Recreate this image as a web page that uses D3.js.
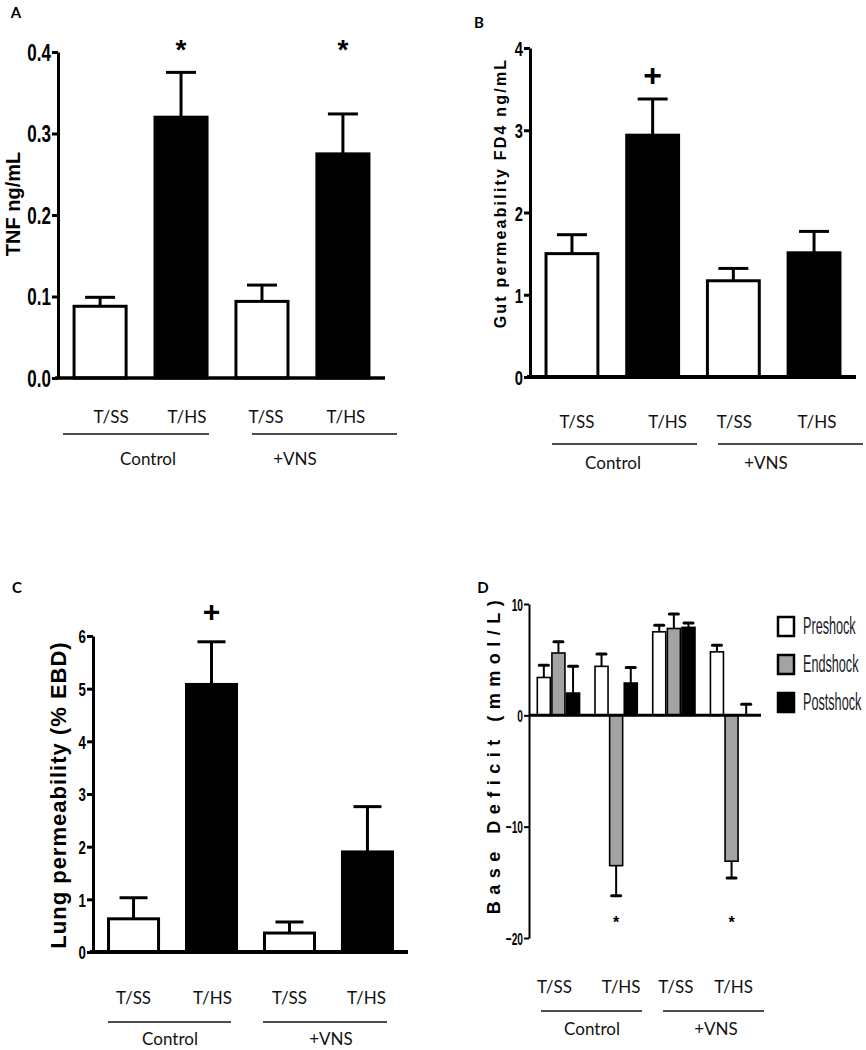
<!DOCTYPE html>
<html><head><meta charset="utf-8">
<script src="https://cdn.jsdelivr.net/npm/d3@7"></script>
<style>body{margin:0;background:#fff}svg{display:block}</style>
</head><body>
<svg id="c" width="866" height="1050"></svg>
<script>
// ---------- data ----------
const categories = ["T/SS", "T/HS", "T/SS", "T/HS"];
const groups = ["Control", "+VNS"];
const barFills = ["#fff", "#000", "#fff", "#000"];

// A: TNF
const tnfMean = [0.088, 0.320, 0.094, 0.275];
const tnfErr = [0.011, 0.055, 0.020, 0.049];
const tnfTicks = [0, 0.1, 0.2, 0.3, 0.4];
const tnfSig = ["", "*", "", "*"];

// B: Gut permeability
const gutMean = [1.50, 2.94, 1.17, 1.51];
const gutErr = [0.23, 0.44, 0.15, 0.26];
const gutTicks = [0, 1, 2, 3, 4];
const gutSig = ["", "+", "", ""];

// C: Lung permeability
const lungMean = [0.63, 5.08, 0.36, 1.90];
const lungErr = [0.40, 0.81, 0.21, 0.86];
const lungTicks = [0, 1, 2, 3, 4, 5, 6];
const lungSig = ["", "+", "", ""];

// D: Base deficit
const bdSeries = ["Preshock", "Endshock", "Postshock"];
const preshockMean = [3.4, 4.4, 7.5, 5.7];
const preshockErr = [1.1, 1.1, 0.6, 0.6];
const endshockMean = [5.6, -13.5, 7.8, -13.1];
const endshockErr = [1.0, 2.7, 1.3, 1.5];
const postshockMean = [2.0, 2.9, 7.9, 0.0];
const postshockErr = [2.4, 1.4, 0.4, 1.0];
const bdTicks = [-20, -10, 0, 10];
const bdSig = ["", "*", "", "*"];
const bdFills = ["#fff", "#a3a3a3", "#000"];

// ---------- drawing ----------
const svg = d3.select("#c");
const ARIAL = "'Liberation Sans',Arial,sans-serif";
const CAL = "Lato,'Open Sans',sans-serif";

function commonDecor(g, L) {
  g.append("text").attr("x", L.letter[1]).attr("y", L.letter[2])
    .attr("font-family", CAL).attr("font-weight", "bold").attr("font-size", 15)
    .attr("text-anchor", "middle").attr("dominant-baseline", "central").text(L.letter[0]);
  g.append("text").attr("transform", `translate(${L.ylab.x},${L.ylab.y}) rotate(-90)`)
    .attr("font-family", ARIAL).attr("font-weight", "bold").attr("font-size", L.ylab.size)
    .attr("letter-spacing", L.ylab.ls).attr("text-anchor", "middle")
    .attr("dominant-baseline", "central").text(L.ylab.text);
}

function catLabels(g, L, centers) {
  categories.forEach((c, i) => {
    g.append("text").attr("x", centers[i] + L.labelDx[i]).attr("y", L.catY)
      .attr("font-family", CAL).attr("font-size", L.catSize).attr("fill", "#111")
      .attr("text-anchor", "middle").text(c);
  });
  L.under.forEach((u, i) => {
    g.append("line").attr("x1", u[0]).attr("x2", u[1]).attr("y1", L.lineY).attr("y2", L.lineY)
      .attr("stroke", "#111").attr("stroke-width", 1.6);
    g.append("text").attr("x", L.groupX[i]).attr("y", L.groupY)
      .attr("font-family", CAL).attr("font-size", L.catSize).attr("fill", "#111")
      .attr("text-anchor", "middle").text(groups[i]);
  });
}

function yAxis(g, L, y, ticks, fmt) {
  const ax = d3.axisLeft(y).tickValues(ticks).tickFormat(fmt)
    .tickSize(L.tickLen).tickSizeOuter(0).tickPadding(1);
  const a = g.append("g").attr("transform", `translate(${L.ax},0)`).call(ax);
  a.select(".domain").attr("stroke", "#000").attr("stroke-width", L.axW);
  a.selectAll(".tick line").attr("stroke", "#000").attr("stroke-width", L.axW);
  a.selectAll(".tick text").attr("font-family", ARIAL).attr("font-weight", "bold")
    .attr("font-size", L.tickSize).attr("fill", "#000")
    .attr("x", 0).attr("dy", "0.36em")
    .attr("transform", `translate(${-(L.tickLen + 1)},0) scale(${L.tickSx},1)`);
}

function simplePanel(L, means, errs, ticks, fmt, sig) {
  const g = svg.append("g");
  const y = d3.scaleLinear().domain(L.domain).range([L.y0, L.y1]);
  const x = d3.scaleBand().domain(d3.range(categories.length)).range([L.ax, L.axEnd])
    .paddingInner(0.32).paddingOuter(0.18);
  const bw = x.bandwidth();
  means.forEach((m, i) => {
    const cx = x(i) + bw / 2;
    g.append("line").attr("x1", cx).attr("x2", cx).attr("y1", y(m)).attr("y2", y(m + errs[i]))
      .attr("stroke", "#000").attr("stroke-width", 3);
    g.append("line").attr("x1", cx - L.cap / 2).attr("x2", cx + L.cap / 2)
      .attr("y1", y(m + errs[i])).attr("y2", y(m + errs[i]))
      .attr("stroke", "#000").attr("stroke-width", 3);
  });
  means.forEach((m, i) => {
    g.append("rect").attr("x", x(i) + 1.5).attr("width", bw - 3)
      .attr("y", y(m)).attr("height", y(0) - y(m))
      .attr("fill", barFills[i]).attr("stroke", "#000").attr("stroke-width", 3);
    if (sig[i]) {
      g.append("text").attr("x", x(i) + bw / 2).attr("y", L.sigY)
        .attr("font-family", ARIAL).attr("font-weight", "bold").attr("font-size", L.sigSize)
        .attr("text-anchor", "middle").text(sig[i]);
    }
  });
  yAxis(g, L, y, ticks, fmt);
  g.append("line").attr("x1", L.ax - 3).attr("x2", L.axEnd).attr("y1", y(0)).attr("y2", y(0))
    .attr("stroke", "#000").attr("stroke-width", L.xW);
  commonDecor(g, L);
  catLabels(g, L, categories.map((c, i) => x(i) + bw / 2));
}

simplePanel({
  letter: ["A", 16, 12], ax: 58, axEnd: 385, y0: 378, y1: 52, domain: [0, 0.4],
  tickLen: 6, axW: 3, xW: 3.5, tickSize: 23, tickSx: 0.74, cap: 30,
  ylab: { text: "TNF ng/mL", x: 13, y: 204, size: 20, ls: 0 },
  sigY: 59, sigSize: 28,
  catY: 423, catSize: 17, labelDx: [11, 6, 4, 3],
  lineY: 434, under: [[63, 209], [252, 397]], groupX: [148, 295], groupY: 465
}, tnfMean, tnfErr, tnfTicks, d3.format(".1f"), tnfSig);

simplePanel({
  letter: ["B", 479, 22], ax: 530, axEnd: 856, y0: 377, y1: 48, domain: [0, 4],
  tickLen: 6, axW: 3, xW: 4, tickSize: 21, tickSx: 0.7, cap: 30,
  ylab: { text: "Gut permeability FD4 ng/mL", x: 500, y: 193, size: 16, ls: 2.2 },
  sigY: 86, sigSize: 32,
  catY: 428, catSize: 17, labelDx: [5, 15, 1, 3],
  lineY: 444, under: [[552, 697], [718, 863]], groupX: [613, 766], groupY: 469
}, gutMean, gutErr, gutTicks, d3.format("d"), gutSig);

simplePanel({
  letter: ["C", 17, 587], ax: 93, axEnd: 408, y0: 952, y1: 636, domain: [0, 6],
  tickLen: 6, axW: 3, xW: 4, tickSize: 19, tickSx: 0.7, cap: 28,
  ylab: { text: "Lung permeability (% EBD)", x: 58, y: 795, size: 22, ls: 1 },
  sigY: 622, sigSize: 30,
  catY: 1004, catSize: 17, labelDx: [0, 1, 0, -1],
  lineY: 1022, under: [[108, 231], [263, 387]], groupX: [170, 331], groupY: 1045
}, lungMean, lungErr, lungTicks, d3.format("d"), lungSig);

// ---------- panel D ----------
(function () {
  const L = {
    letter: ["D", 483, 587], ax: 529, axEnd: 761, y0: 938, y1: 604, domain: [-20, 10],
    tickLen: 5, axW: 2, tickSize: 17, tickSx: 0.6,
    ylab: { text: "Base Deficit (mmol/L)", x: 494, y: 754, size: 18, ls: 6.5 },
    catY: 993, catSize: 17, labelDx: [-4, 5, 2, 2],
    lineY: 1011, under: [[541, 642], [663, 764]], groupX: [592, 716], groupY: 1035
  };
  const g = svg.append("g");
  const y = d3.scaleLinear().domain(L.domain).range([L.y0, L.y1]);
  const x = d3.scaleBand().domain(d3.range(categories.length)).range([L.ax, L.axEnd])
    .paddingInner(0.24).paddingOuter(0.13);
  const xs = d3.scaleBand().domain(d3.range(bdSeries.length)).range([0, x.bandwidth()]);
  const bw = xs.bandwidth();
  const means = [preshockMean, endshockMean, postshockMean];
  const errs = [preshockErr, endshockErr, postshockErr];
  means.forEach((ser, s) => ser.forEach((m, i) => {
    const cx = x(i) + xs(s) + bw / 2;
    const e = m >= 0 ? m + errs[s][i] : m - errs[s][i];
    g.append("line").attr("x1", cx).attr("x2", cx).attr("y1", y(m)).attr("y2", y(e))
      .attr("stroke", "#000").attr("stroke-width", 2);
    g.append("line").attr("x1", cx - 4.5).attr("x2", cx + 4.5).attr("y1", y(e)).attr("y2", y(e))
      .attr("stroke", "#000").attr("stroke-width", 3).attr("stroke-linecap", "round");
  }));
  means.forEach((ser, s) => ser.forEach((m, i) => {
    if (m === 0) return;
    g.append("rect").attr("x", x(i) + xs(s) + 0.8).attr("width", bw - 1.6)
      .attr("y", y(Math.max(m, 0))).attr("height", Math.abs(y(m) - y(0)))
      .attr("fill", bdFills[s]).attr("stroke", "#000").attr("stroke-width", 1.6);
  }));
  bdSig.forEach((t, i) => {
    if (!t) return;
    g.append("text").attr("x", x(i) + xs(1) + bw / 2).attr("y", y(-18.4) + 8)
      .attr("font-family", ARIAL).attr("font-weight", "bold").attr("font-size", 16)
      .attr("text-anchor", "middle").text(t);
  });
  yAxis(g, L, y, bdTicks, d3.format("d"));
  g.append("line").attr("x1", L.ax).attr("x2", L.axEnd).attr("y1", y(0)).attr("y2", y(0))
    .attr("stroke", "#000").attr("stroke-width", 3);
  commonDecor(g, L);
  catLabels(g, L, categories.map((c, i) => x(i) + x.bandwidth() / 2));

  // legend
  const lg = g.append("g").attr("transform", "translate(777,626)");
  bdSeries.forEach((s, k) => {
    lg.append("rect").attr("x", 1).attr("y", k * 38 - 9).attr("width", 16).attr("height", 19)
      .attr("fill", bdFills[k]).attr("stroke", "#000").attr("stroke-width", 2.5);
    lg.append("g").attr("transform", `translate(26,${k * 38 + 8}) scale(0.55,1)`)
      .append("text").attr("x", 0).attr("y", 0)
      .attr("font-family", ARIAL).attr("font-size", 23).attr("fill", "#1a1a2a")
      .text(s);
  });
})();
</script>
</body></html>
